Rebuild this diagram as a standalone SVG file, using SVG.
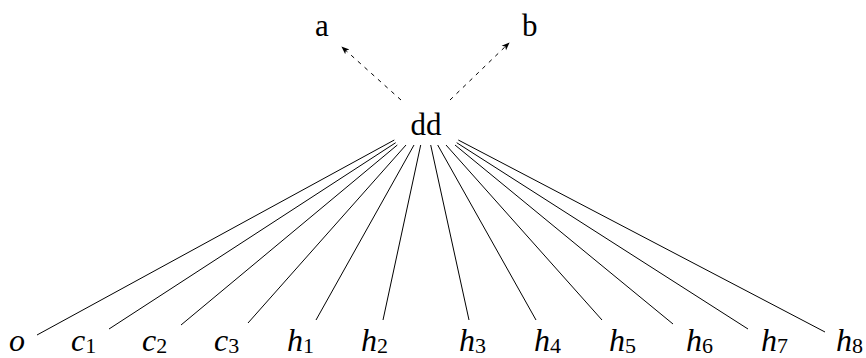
<svg xmlns="http://www.w3.org/2000/svg" width="866" height="358" viewBox="0 0 866 358">
<style>
.up{font-family:"Liberation Serif","DejaVu Serif",serif;font-size:31px;fill:#000}
.it{font-family:"Liberation Serif","DejaVu Serif",serif;font-style:italic;font-size:32px;fill:#000}
.sub{font-style:normal;font-size:22px}
.e{stroke:#000;stroke-width:1;fill:none}
.d{stroke:#000;stroke-width:1;fill:none;stroke-dasharray:4 5;marker-end:url(#ah)}
</style>
<defs>
<marker id="ah" viewBox="0 0 10 10" refX="9" refY="5" markerWidth="8" markerHeight="8" orient="auto" markerUnits="userSpaceOnUse">
<path d="M0,1 L10,5 L0,9 L2.5,5 Z" fill="#000"/>
</marker>
</defs>
<rect width="866" height="358" fill="#fff"/>
<g id="connectors">
<line class="d" x1="401" y1="100" x2="342" y2="47"/>
<line class="d" x1="450" y1="100" x2="509" y2="43"/>
<line class="e" x1="394.3" y1="140" x2="37" y2="335"/>
<line class="e" x1="395.7" y1="142.7" x2="109" y2="329"/>
<line class="e" x1="397.3" y1="145" x2="181" y2="325"/>
<line class="e" x1="406" y1="145" x2="248" y2="323"/>
<line class="e" x1="414" y1="145" x2="316" y2="320"/>
<line class="e" x1="420.7" y1="145" x2="383" y2="320"/>
<line class="e" x1="430.7" y1="145" x2="469" y2="320"/>
<line class="e" x1="437.7" y1="145" x2="536" y2="320"/>
<line class="e" x1="446" y1="145" x2="602" y2="320"/>
<line class="e" x1="455" y1="145" x2="673" y2="324"/>
<line class="e" x1="456.7" y1="142.7" x2="748" y2="329"/>
<line class="e" x1="458.3" y1="140" x2="825" y2="332"/>
</g>
<g id="a"><text class="up" x="315" y="36">a</text></g>
<g id="b"><text class="up" x="522" y="36">b</text></g>
<g id="dd"><text class="up" x="426" y="135" text-anchor="middle">dd</text></g>
<g id="o"><text class="it" x="9" y="351">o</text></g>
<g id="c1"><text class="it" x="71" y="351">c<tspan class="sub" dy="2">1</tspan></text></g>
<g id="c2"><text class="it" x="142" y="351">c<tspan class="sub" dy="2">2</tspan></text></g>
<g id="c3"><text class="it" x="214" y="351">c<tspan class="sub" dy="2">3</tspan></text></g>
<g id="h1"><text class="it" x="287" y="351">h<tspan class="sub" dy="2">1</tspan></text></g>
<g id="h2"><text class="it" x="361" y="351">h<tspan class="sub" dy="2">2</tspan></text></g>
<g id="h3"><text class="it" x="459" y="351">h<tspan class="sub" dy="2">3</tspan></text></g>
<g id="h4"><text class="it" x="534" y="351">h<tspan class="sub" dy="2">4</tspan></text></g>
<g id="h5"><text class="it" x="609" y="351">h<tspan class="sub" dy="2">5</tspan></text></g>
<g id="h6"><text class="it" x="686" y="351">h<tspan class="sub" dy="2">6</tspan></text></g>
<g id="h7"><text class="it" x="761" y="351">h<tspan class="sub" dy="2">7</tspan></text></g>
<g id="h8"><text class="it" x="836" y="351">h<tspan class="sub" dy="2">8</tspan></text></g>
</svg>
